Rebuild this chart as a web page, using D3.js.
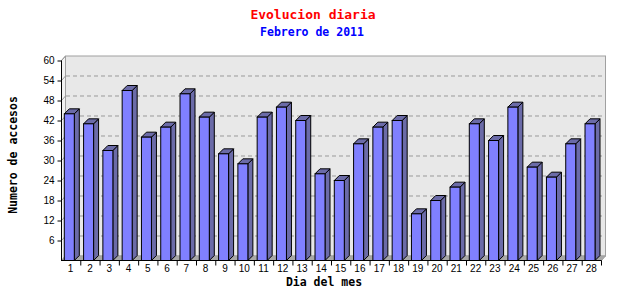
<!DOCTYPE html>
<html>
<head>
<meta charset="utf-8">
<script src="https://cdn.jsdelivr.net/npm/d3@7"></script>
<style>
  body { margin: 0; background: #fff; }
  svg { display: block; }
  .tick text { font-family: "Liberation Sans", Arial, sans-serif; font-size: 10px; fill: #000; }
  .mono { font-family: "DejaVu Sans Mono", "Liberation Mono", monospace; font-weight: bold; }
</style>
</head>
<body>
<script>
(function() {
    var w = 640,
        h = 300,
        depth = 5,     // bar depth
        wallD = 4;     // wall offset
    // data
    var days = d3.range(1, 29).map(String);
    var visits = [44, 41, 33, 51, 37, 40, 50, 43, 32, 29, 43, 46, 42, 26,
                  24, 35, 40, 42, 14, 18, 22, 41, 36, 46, 28, 25, 35, 41];
    var yTicks = [6, 12, 18, 24, 30, 36, 42, 48, 54, 60];

    var svg = d3.select('body').append('svg')
        .attr('width', w)
        .attr('height', h);

    var x = d3.scaleBand().domain(days).range([61, 601]).paddingInner(0);
    var y = d3.scaleLinear().domain([0, 60]).range([260.5, 60.5]);

    var x0 = x.range()[0], x1 = x.range()[1],
        y0 = y(0), yTop = y(60);

    // back wall
    svg.append('rect')
        .attr('x', x0 + wallD + 0.5)
        .attr('y', yTop - wallD - 0.5)
        .attr('width', x1 - x0)
        .attr('height', y0 - yTop)
        .attr('fill', '#e8e8e8')
        .attr('stroke', '#a0a0a0');
    // left side wall
    svg.append('polygon')
        .attr('points', [[x0 + 0.5, yTop], [x0 + wallD + 0.5, yTop - wallD - 0.5],
                         [x0 + wallD + 0.5, y0 - wallD - 0.5], [x0 + 0.5, y0]].join(' '))
        .attr('fill', '#f2f2f2')
        .attr('stroke', '#a0a0a0');
    // floor
    svg.append('polygon')
        .attr('points', [[x0 + 0.5, y0], [x0 + wallD + 0.5, y0 - wallD - 0.5],
                         [x1 + wallD + 0.5, y0 - wallD - 0.5], [x1 + 0.5, y0]].join(' '))
        .attr('fill', '#a8a8a8')
        .attr('stroke', '#a0a0a0');

    // gridlines on the back wall
    svg.append('g').selectAll('line')
        .data(yTicks.filter(function(d) { return d < 60; }))
        .enter().append('line')
        .attr('x1', x0 + wallD + 1)
        .attr('x2', x1 + wallD)
        .attr('y1', function(d) { return y(d) - wallD - 0.5; })
        .attr('y2', function(d) { return y(d) - wallD - 0.5; })
        .attr('stroke', '#999')
        .attr('stroke-dasharray', '4,3');
    // gridlines on the side wall
    svg.append('g').selectAll('line')
        .data(yTicks)
        .enter().append('line')
        .attr('x1', x0 + 0.5)
        .attr('x2', x0 + wallD + 0.5)
        .attr('y1', function(d) { return y(d); })
        .attr('y2', function(d) { return y(d) - wallD - 0.5; })
        .attr('stroke', '#999');

    // bars
    var bw = 10,
        off = 3.3;
    var bars = svg.append('g').selectAll('g')
        .data(visits)
        .enter().append('g');
    bars.append('polygon') // side
        .attr('points', function(d, i) {
            var bx = x(days[i]) + off + bw, by = y(d);
            return [[bx, by], [bx + depth, by - depth], [bx + depth, y0 - depth], [bx, y0]].join(' ');
        })
        .attr('fill', '#6b6ba8')
        .attr('stroke', '#000');
    bars.append('polygon') // top
        .attr('points', function(d, i) {
            var bx = x(days[i]) + off, by = y(d);
            return [[bx, by], [bx + depth, by - depth], [bx + bw + depth, by - depth], [bx + bw, by]].join(' ');
        })
        .attr('fill', '#6b6ba8')
        .attr('stroke', '#000');
    bars.append('rect') // front
        .attr('x', function(d, i) { return x(days[i]) + off; })
        .attr('y', function(d) { return y(d); })
        .attr('width', bw)
        .attr('height', function(d) { return y0 - y(d); })
        .attr('fill', '#8080ff')
        .attr('stroke', '#000');

    // axes
    var yAxis = svg.append('g')
        .attr('transform', 'translate(' + (x0 + 0.5) + ',0)')
        .call(d3.axisLeft(y).tickValues(yTicks).tickSize(4).tickPadding(3));
    yAxis.select('.domain').attr('d', 'M0,' + yTop + 'V' + y0);
    var xAxis = svg.append('g')
        .attr('transform', 'translate(0,' + y0 + ')')
        .call(d3.axisBottom(x).tickSize(0).tickPadding(4));
    xAxis.select('.domain').attr('d', 'M' + x0 + ',0H' + (x1 + 0.5));
    // tick marks at band boundaries
    xAxis.append('g').selectAll('line')
        .data(days)
        .enter().append('line')
        .attr('x1', function(d) { return x(d) + x.bandwidth() + 0.5; })
        .attr('x2', function(d) { return x(d) + x.bandwidth() + 0.5; })
        .attr('y1', 0)
        .attr('y2', 5)
        .attr('stroke', '#000');

    // titles
    svg.append('text')
        .attr('class', 'mono')
        .attr('x', 313).attr('y', 19)
        .attr('text-anchor', 'middle')
        .attr('font-size', '13px')
        .attr('fill', '#ff0000')
        .text('Evolucion diaria');
    svg.append('text')
        .attr('class', 'mono')
        .attr('x', 312).attr('y', 36)
        .attr('text-anchor', 'middle')
        .attr('font-size', '11.5px')
        .attr('fill', '#0000ff')
        .text('Febrero de 2011');
    svg.append('text')
        .attr('class', 'mono')
        .attr('x', 324).attr('y', 286)
        .attr('text-anchor', 'middle')
        .attr('font-size', '11.5px')
        .text('Dia del mes');
    svg.append('text')
        .attr('class', 'mono')
        .attr('transform', 'translate(17,155) rotate(-90)')
        .attr('text-anchor', 'middle')
        .attr('font-size', '11.5px')
        .text('Numero de accesos');
})();
</script>
</body>
</html>
